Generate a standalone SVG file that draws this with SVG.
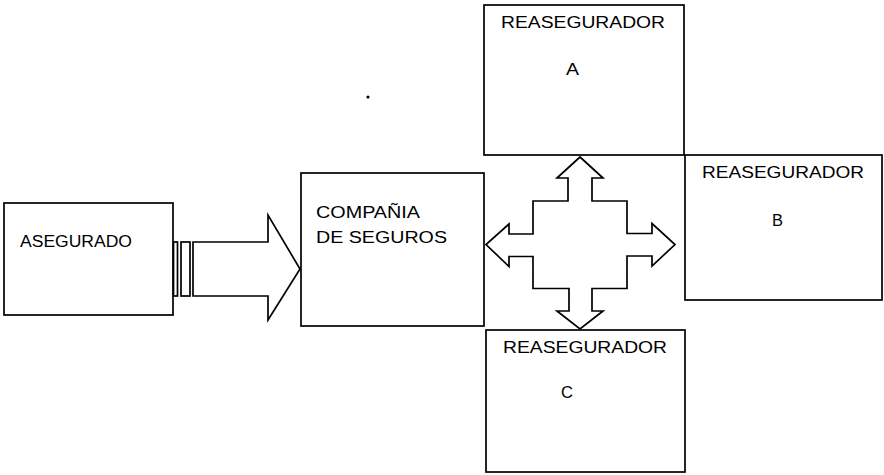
<svg xmlns="http://www.w3.org/2000/svg" width="884" height="475" viewBox="0 0 884 475">
<style>
.box{fill:#fff;stroke:#000;stroke-width:1.7}
.shape{fill:#fff;stroke:#000;stroke-width:1.7;stroke-linejoin:miter}
text{font-family:"Liberation Sans",Arial,sans-serif;font-size:16px;fill:#000}
</style>
<rect width="884" height="475" fill="#fff"/>
<g id="asegurado">
<rect class="box" x="4" y="203" width="169" height="112"/>
<text x="20" y="247" textLength="112" lengthAdjust="spacingAndGlyphs">ASEGURADO</text>
</g>
<g id="compania">
<rect class="box" x="301" y="173" width="183" height="153"/>
<text x="316" y="218" textLength="104" lengthAdjust="spacingAndGlyphs">COMPAÑIA</text>
<text x="316" y="243" textLength="131" lengthAdjust="spacingAndGlyphs">DE SEGUROS</text>
</g>
<g id="reasegurador-a">
<rect class="box" x="484" y="5" width="200" height="150"/>
<text x="501" y="28" textLength="164" lengthAdjust="spacingAndGlyphs">REASEGURADOR</text>
<text x="566" y="75" textLength="13" lengthAdjust="spacingAndGlyphs">A</text>
</g>
<g id="reasegurador-b">
<rect class="box" x="685" y="155" width="197" height="145"/>
<text x="702" y="178" textLength="162" lengthAdjust="spacingAndGlyphs">REASEGURADOR</text>
<text x="772" y="226" textLength="11" lengthAdjust="spacingAndGlyphs">B</text>
</g>
<g id="reasegurador-c">
<rect class="box" x="486" y="330" width="199" height="142"/>
<text x="503" y="353" textLength="164" lengthAdjust="spacingAndGlyphs">REASEGURADOR</text>
<text x="561" y="398" textLength="12" lengthAdjust="spacingAndGlyphs">C</text>
</g>
<g id="connectors">
<rect class="shape" x="173.5" y="242" width="4" height="54"/>
<rect class="shape" x="181" y="242" width="9" height="54"/>
<polygon class="shape" points="193,242 268,242 268,215 300,269 268,320 268,296 193,296"/>
<polygon class="shape" points="580,157 603,178 592,178 592,201 627,201 627,233.5 652,233.5 652,223.5 675,244.5 652,266 652,256 627,256 627,288.5 592,288.5 592,311 603,311 580,329 557,311 569,311 569,288.5 533,288.5 533,256.5 509,256.5 509,266.5 486,244.5 509,224 509,234 533,234 533,201 568,201 568,178 557,178"/>
</g>
<circle cx="368" cy="97" r="1.6" fill="#000"/>
</svg>
